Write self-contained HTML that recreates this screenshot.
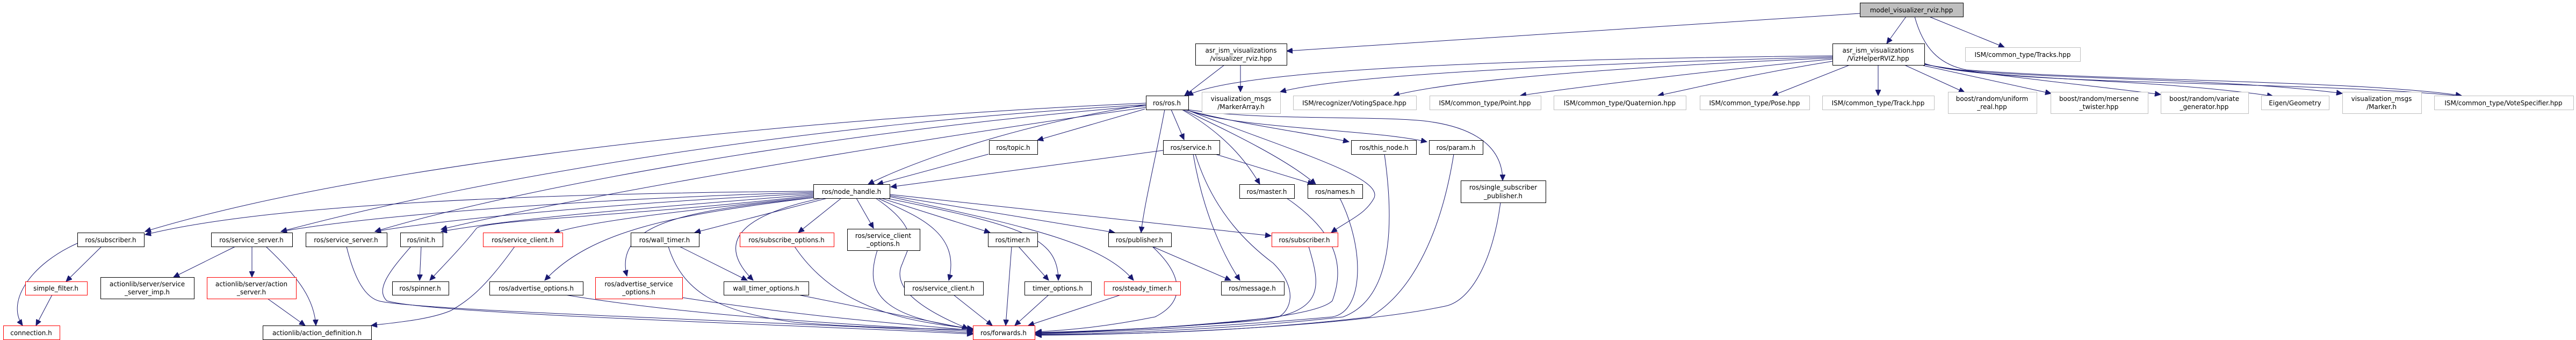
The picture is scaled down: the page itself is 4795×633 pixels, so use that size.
<!DOCTYPE html>
<html><head><meta charset="utf-8"><style>
html,body{margin:0;padding:0;background:#fff;width:4795px;height:633px;overflow:hidden}
svg text{font-family:"DejaVu Sans","Liberation Sans",sans-serif;font-size:12px;fill:#000;text-anchor:middle}
.e{fill:none;stroke:#191970;stroke-width:1}
</style></head><body>
<svg width="4795" height="633" viewBox="0 0 4795 633" xmlns="http://www.w3.org/2000/svg">
<defs><marker id="a" markerUnits="userSpaceOnUse" markerWidth="12" markerHeight="10" refX="11" refY="5" orient="auto"><path d="M0,0 L11,5 L0,10 Z" fill="#191970" stroke="#191970"/></marker></defs>
<g class="e" marker-end="url(#a)">
<!-- top -->
<path d="M3462,25 L2395,95"/>
<path d="M3548,31 L3512,81"/>
<path d="M3591,31 L3731,88"/>
<path d="M3564,31 C3580,90 3610,120 3660,130 C3900,150 4400,150 4582,178"/>
<path d="M2279,121 L2205,178"/>
<path d="M2309,121 L2309,171"/>
<path d="M3411,104 C2800,110 2300,130 2210,178"/>
<path d="M3411,106 C2900,120 2500,140 2383,171"/>
<path d="M3411,108 C3000,125 2700,150 2594,178"/>
<path d="M3411,110 C3200,130 2950,160 2830,178"/>
<path d="M3411,114 C3250,140 3150,165 3086,178"/>
<path d="M3443,121 L3299,178"/>
<path d="M3496,121 L3496,178"/>
<path d="M3545,121 L3657,172"/>
<path d="M3580,122 L3818,174"/>
<path d="M3582,120 C3700,140 3900,160 4022,176"/>
<path d="M3582,119 C3700,150 4000,145 4231,179"/>
<path d="M3582,119 C3700,150 4100,140 4360,174"/>
<path d="M3582,118 C3700,160 4300,150 4582,179"/>
<!-- ros.h -->
<path d="M2133,192 C1500,220 700,300 270,431"/>
<path d="M2133,195 C1500,230 900,330 523,431"/>
<path d="M2133,197 C1600,240 1000,340 698,431"/>
<path d="M2133,200 C1700,260 1100,360 821,427"/>
<path d="M2133,195 C1900,230 1700,300 1616,343"/>
<path d="M2131,203 L1931,261"/>
<path d="M2180,204 L2204,260"/>
<path d="M2168,204 C2150,300 2130,380 2124,433"/>
<path d="M2200,204 C2280,250 2320,300 2345,343"/>
<path d="M2202,204 C2300,250 2400,300 2449,343"/>
<path d="M2205,204 C2300,230 2450,250 2511,264"/>
<path d="M2207,204 C2300,240 2550,240 2656,264"/>
<path d="M2210,204 C2350,225 2550,215 2650,225 C2780,240 2797,300 2797,336"/>
<path d="M2208,204 C2400,280 2580,330 2557,370 C2540,400 2510,410 2478,433"/>
<!-- node_handle -->
<path d="M1514,356 C1000,360 500,380 270,437"/>
<path d="M1514,358 C1100,370 700,400 523,431"/>
<path d="M1514,360 C1200,375 850,405 698,431"/>
<path d="M1514,362 C1300,380 1000,400 821,431"/>
<path d="M1514,364 C1200,400 900,410 887,425 C860,460 820,500 800,522"/>
<path d="M1514,366 C1300,390 1100,410 1031,434"/>
<path d="M1514,368 C1250,400 1100,430 1014,522"/>
<path d="M1514,368 C1300,390 1140,410 1167,514"/>
<path d="M1540,369 L1293,433"/>
<path d="M1530,369 C1380,400 1330,450 1402,522"/>
<path d="M1566,369 L1486,433"/>
<path d="M1594,369 L1626,425"/>
<path d="M1630,369 C1720,430 1690,460 1680,490 C1660,530 1700,570 1802,612"/>
<path d="M1634,369 C1700,400 1790,430 1766,522"/>
<path d="M1640,369 L1843,433"/>
<path d="M1650,369 C1900,420 1970,440 1970,522"/>
<path d="M1656,366 C1900,420 2050,450 2110,522"/>
<path d="M1656,364 L2075,433"/>
<path d="M1656,362 L2366,439"/>
<path d="M1840,287 L1633,343"/>
<path d="M2165,280 L1658,348"/>
<path d="M2262,287 L2445,343"/>
<path d="M2221,287 C2240,400 2280,480 2308,522"/>
<path d="M2225,287 C2260,400 2330,460 2370,490 C2420,540 2400,580 2380,590 C2200,610 2000,620 1928,620"/>
<!-- to forwards -->
<path d="M645,459 C660,520 680,555 708,561 C800,580 1500,600 1811,620"/>
<path d="M765,459 C720,510 700,540 720,560 C800,585 1500,605 1811,622"/>
<path d="M1052,549 C1300,590 1600,605 1811,617"/>
<path d="M1270,554 C1500,590 1700,605 1811,615"/>
<path d="M1244,459 C1270,540 1330,580 1480,600 C1600,610 1720,612 1811,614"/>
<path d="M1486,549 L1811,614"/>
<path d="M1479,459 C1560,580 1700,600 1811,612"/>
<path d="M1633,466 C1610,540 1630,590 1811,612"/>
<path d="M1775,549 L1847,606"/>
<path d="M1883,459 L1872,606"/>
<path d="M1952,549 L1889,606"/>
<path d="M2086,549 L1914,606"/>
<path d="M2145,459 C2200,510 2210,560 2150,590 C2050,610 1980,615 1928,618"/>
<path d="M2436,459 C2460,540 2470,590 2300,600 C2100,615 1980,618 1928,619"/>
<path d="M2395,369 C2470,420 2510,480 2480,560 C2440,600 2100,615 1928,620"/>
<path d="M2494,369 C2540,460 2540,580 2480,590 C2200,615 1980,620 1928,621"/>
<path d="M2577,287 C2600,450 2580,560 2500,590 C2250,618 2000,622 1928,622"/>
<path d="M2706,287 C2680,450 2620,550 2550,590 C2300,620 2050,623 1928,623"/>
<path d="M2793,377 C2780,480 2740,560 2690,570 C2500,610 2100,624 1928,624"/>
<path d="M1265,459 L1391,522"/>
<path d="M1896,459 L1952,522"/>
<path d="M2145,459 L2291,522"/>
<!-- left cluster -->
<path d="M438,459 L323,516"/>
<path d="M469,459 L469,516"/>
<path d="M495,459 C560,520 585,560 588,606"/>
<path d="M498,556 L568,606"/>
<path d="M189,459 L123,524"/>
<path d="M144,453 C60,490 10,560 42,606"/>
<path d="M97,549 L67,606"/>
<path d="M784,459 L781,522"/>
<path d="M958,459 C900,540 870,560 840,578 C800,595 740,600 691,606"/>
</g>
<g stroke-width="1">
<g fill="#fff" stroke="#000">
<rect x="3462.5" y="5.5" width="192" height="26" fill="#bfbfbf"/>
<rect x="2225.5" y="81.5" width="170" height="40"/>
<rect x="3411.5" y="81.5" width="171" height="40"/>
<rect x="2133.5" y="178.5" width="79" height="26"/>
<rect x="1841.5" y="261.5" width="90" height="26"/>
<rect x="2165.5" y="261.5" width="105" height="26"/>
<rect x="2515.5" y="261.5" width="121" height="26"/>
<rect x="2660.5" y="261.5" width="100" height="26"/>
<rect x="1514.5" y="343.5" width="142" height="26"/>
<rect x="2307.5" y="343.5" width="102" height="26"/>
<rect x="2434.5" y="343.5" width="102" height="26"/>
<rect x="2719.5" y="336.5" width="158" height="41"/>
<rect x="144.5" y="433.5" width="124" height="26"/>
<rect x="393.5" y="433.5" width="151" height="26"/>
<rect x="569.5" y="433.5" width="151" height="26"/>
<rect x="745.5" y="433.5" width="79" height="26"/>
<rect x="1174.5" y="433.5" width="127" height="26"/>
<rect x="1577.5" y="426.5" width="135" height="40"/>
<rect x="1839.5" y="433.5" width="92" height="26"/>
<rect x="2063.5" y="433.5" width="117" height="26"/>
<rect x="187.5" y="516.5" width="174" height="40"/>
<rect x="730.5" y="524.5" width="105" height="25"/>
<rect x="911.5" y="524.5" width="174" height="25"/>
<rect x="1347.5" y="524.5" width="158" height="25"/>
<rect x="1683.5" y="524.5" width="147" height="25"/>
<rect x="1907.5" y="524.5" width="124" height="25"/>
<rect x="2273.5" y="524.5" width="117" height="25"/>
<rect x="489.5" y="606.5" width="202" height="26"/>
</g>
<g fill="#fff" stroke="#ff0000">
<rect x="899.5" y="433.5" width="148" height="26"/>
<rect x="1377.5" y="433.5" width="175" height="26"/>
<rect x="2367.5" y="433.5" width="123" height="26"/>
<rect x="47.5" y="524.5" width="115" height="25"/>
<rect x="385.5" y="516.5" width="166" height="40"/>
<rect x="1108.5" y="516.5" width="162" height="40"/>
<rect x="2055.5" y="524.5" width="142" height="25"/>
<rect x="6.5" y="606.5" width="105" height="26"/>
<rect x="1811.5" y="606.5" width="115" height="26"/>
</g>
<g fill="#fff" stroke="#bfbfbf">
<rect x="3658.5" y="88.5" width="214" height="26"/>
<rect x="2237.5" y="171.5" width="146" height="40"/>
<rect x="2407.5" y="178.5" width="229" height="26"/>
<rect x="2661.5" y="178.5" width="207" height="26"/>
<rect x="2892.5" y="178.5" width="246" height="26"/>
<rect x="3164.5" y="178.5" width="204" height="26"/>
<rect x="3392.5" y="178.5" width="208" height="26"/>
<rect x="3626.5" y="171.5" width="165" height="40"/>
<rect x="3817.5" y="171.5" width="181" height="40"/>
<rect x="4022.5" y="171.5" width="163" height="40"/>
<rect x="4209.5" y="178.5" width="126" height="26"/>
<rect x="4360.5" y="171.5" width="147" height="40"/>
<rect x="4531.5" y="178.5" width="259" height="26"/>
</g>
</g>
<g>
<text x="3558" y="23">model_visualizer_rviz.hpp</text>
<text x="2310" y="98">asr_ism_visualizations</text><text x="2310" y="113">/visualizer_rviz.hpp</text>
<text x="3496" y="98">asr_ism_visualizations</text><text x="3496" y="113">/VizHelperRVIZ.hpp</text>
<text x="3765" y="106">ISM/common_type/Tracks.hpp</text>
<text x="2172" y="196">ros/ros.h</text>
<text x="2310" y="188">visualization_msgs</text><text x="2310" y="203">/MarkerArray.h</text>
<text x="2521" y="196">ISM/recognizer/VotingSpace.hpp</text>
<text x="2764" y="196">ISM/common_type/Point.hpp</text>
<text x="3015" y="196">ISM/common_type/Quaternion.hpp</text>
<text x="3266" y="196">ISM/common_type/Pose.hpp</text>
<text x="3496" y="196">ISM/common_type/Track.hpp</text>
<text x="3708" y="188">boost/random/uniform</text><text x="3708" y="203">_real.hpp</text>
<text x="3907" y="188">boost/random/mersenne</text><text x="3907" y="203">_twister.hpp</text>
<text x="4103" y="188">boost/random/variate</text><text x="4103" y="203">_generator.hpp</text>
<text x="4272" y="196">Eigen/Geometry</text>
<text x="4433" y="188">visualization_msgs</text><text x="4433" y="203">/Marker.h</text>
<text x="4660" y="196">ISM/common_type/VoteSpecifier.hpp</text>
<text x="1886" y="279">ros/topic.h</text>
<text x="2217" y="279">ros/service.h</text>
<text x="2576" y="279">ros/this_node.h</text>
<text x="2710" y="279">ros/param.h</text>
<text x="1585" y="361">ros/node_handle.h</text>
<text x="2358" y="361">ros/master.h</text>
<text x="2485" y="361">ros/names.h</text>
<text x="2798" y="353">ros/single_subscriber</text><text x="2798" y="369">_publisher.h</text>
<text x="206" y="451">ros/subscriber.h</text>
<text x="468" y="451">ros/service_server.h</text>
<text x="644" y="451">ros/service_server.h</text>
<text x="784" y="451">ros/init.h</text>
<text x="973" y="451">ros/service_client.h</text>
<text x="1237" y="451">ros/wall_timer.h</text>
<text x="1464" y="451">ros/subscribe_options.h</text>
<text x="1644" y="443">ros/service_client</text><text x="1644" y="458">_options.h</text>
<text x="1885" y="451">ros/timer.h</text>
<text x="2121" y="451">ros/publisher.h</text>
<text x="2428" y="451">ros/subscriber.h</text>
<text x="104" y="541">simple_filter.h</text>
<text x="274" y="533">actionlib/server/service</text><text x="274" y="548">_server_imp.h</text>
<text x="468" y="533">actionlib/server/action</text><text x="468" y="548">_server.h</text>
<text x="782" y="541">ros/spinner.h</text>
<text x="998" y="541">ros/advertise_options.h</text>
<text x="1189" y="533">ros/advertise_service</text><text x="1189" y="548">_options.h</text>
<text x="1426" y="541">wall_timer_options.h</text>
<text x="1756" y="541">ros/service_client.h</text>
<text x="1969" y="541">timer_options.h</text>
<text x="2126" y="541">ros/steady_timer.h</text>
<text x="2331" y="541">ros/message.h</text>
<text x="58" y="624">connection.h</text>
<text x="590" y="624">actionlib/action_definition.h</text>
<text x="1868" y="624">ros/forwards.h</text>
</g>
</svg>
</body></html>
